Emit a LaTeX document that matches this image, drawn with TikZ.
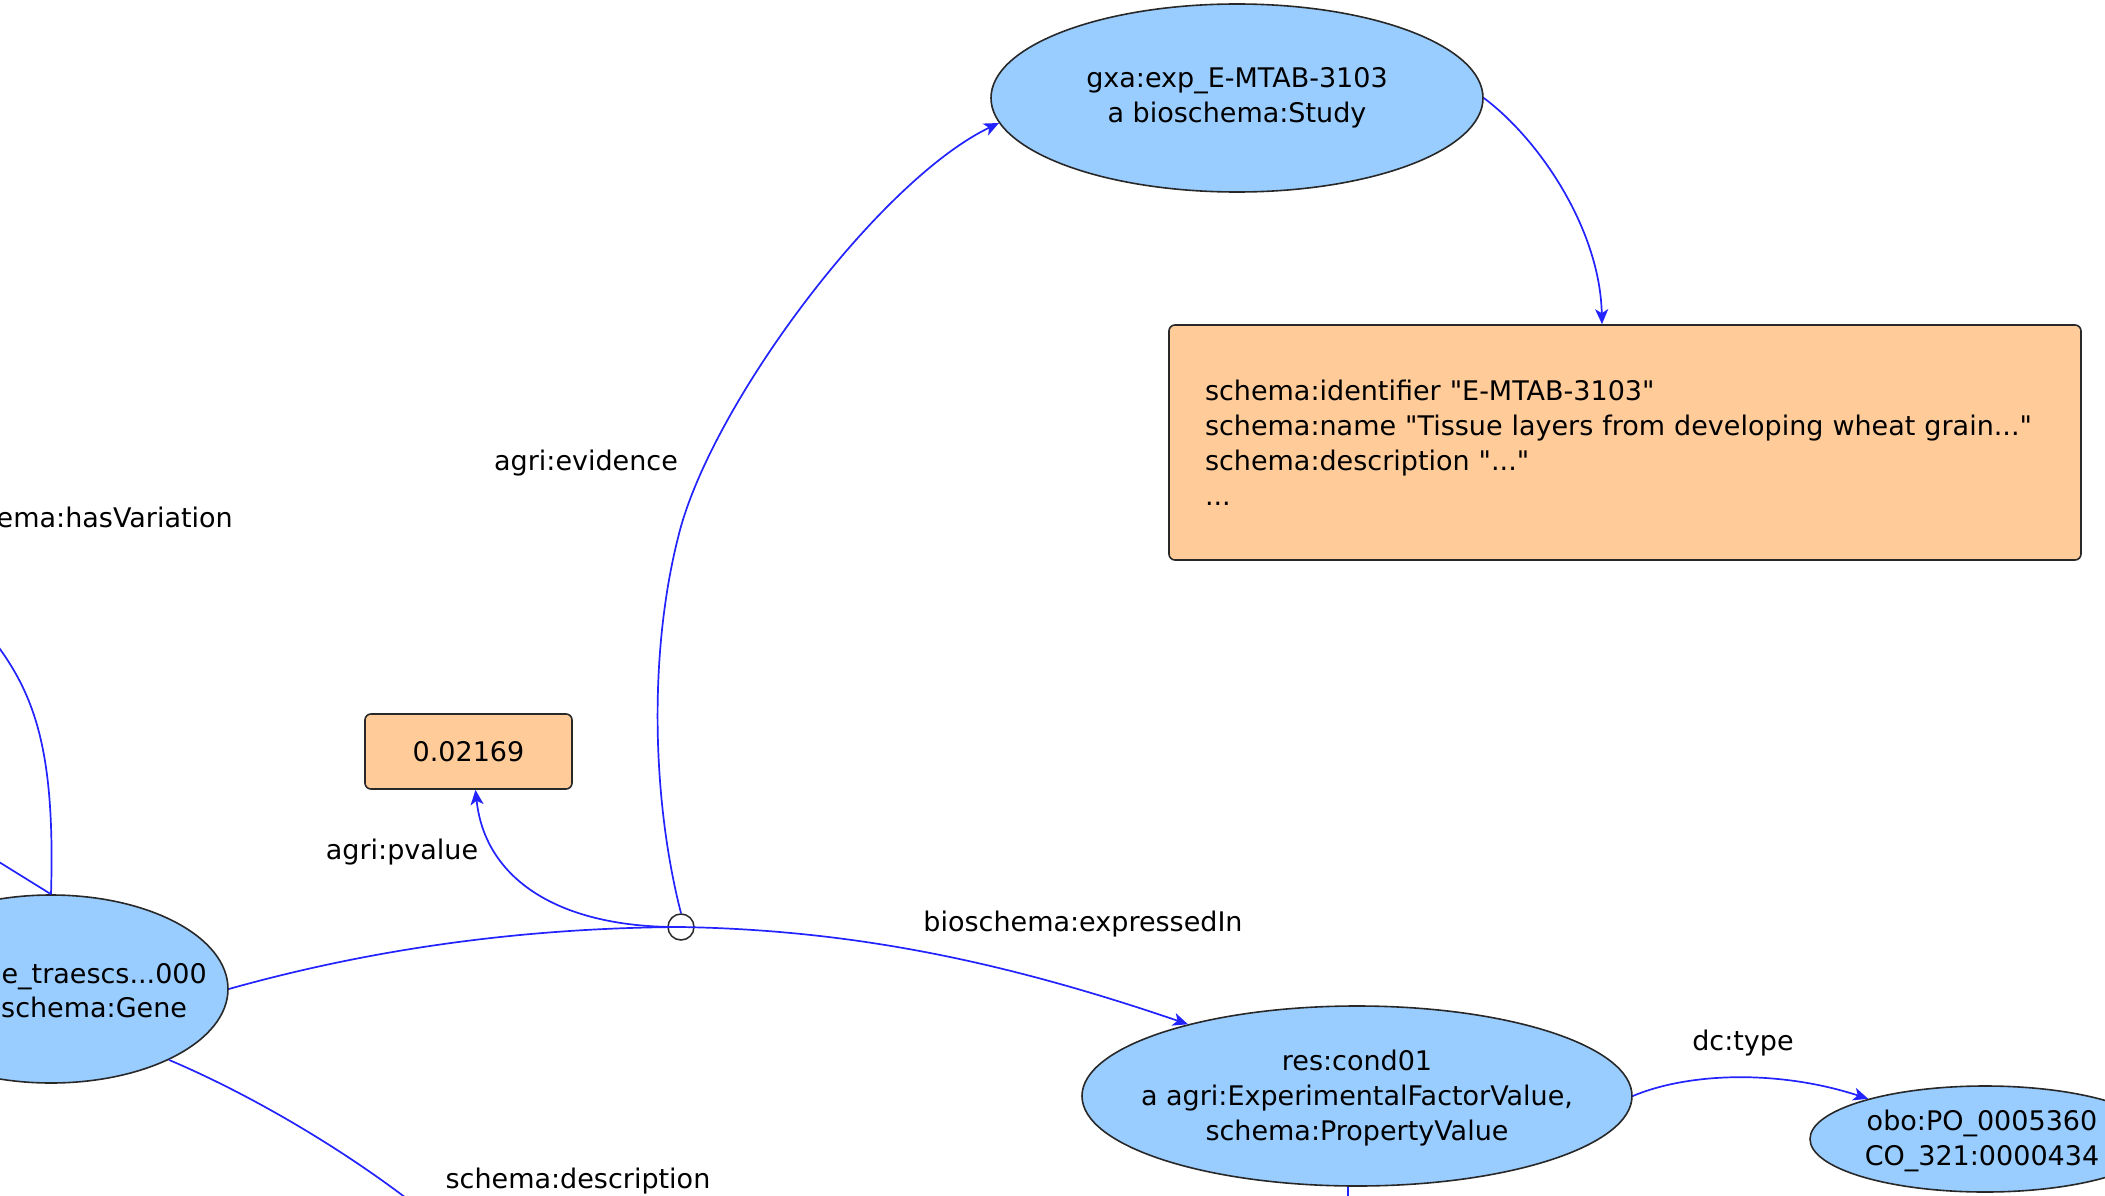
\documentclass[tikz,border=0pt]{standalone}
\usepackage{fontspec}
\setmainfont{DejaVu Sans}[Ligatures=TeXOff]
\usetikzlibrary{shapes.geometric,arrows.meta}
\definecolor{nodeblue}{RGB}{153,204,255}
\definecolor{litorange}{RGB}{255,204,153}
\definecolor{edgeblue}{RGB}{35,35,255}
\definecolor{bord}{RGB}{40,40,40}
\begin{document}
\begin{tikzpicture}[x=1pt,y=-1pt,
  font=\fontsize{27pt}{35pt}\selectfont,
  res/.style={ellipse,draw=bord,line width=1.6pt,fill=nodeblue,inner sep=0pt},
  lit/.style={rectangle,draw=bord,line width=1.6pt,fill=litorange,rounded corners=6pt,inner sep=0pt},
  txt/.style={align=center,inner sep=0pt},
  lbl/.style={inner sep=0pt},
  link/.style={draw=edgeblue,line width=1.7pt},
  arr/.style={link,-{Stealth[length=15pt,width=13pt,inset=4pt]}},
  bnode/.style={circle,draw=bord,line width=1.5pt,minimum size=26pt,inner sep=0pt}
]
\useasboundingbox (0,0) rectangle (2105,1196);
\clip (0,0) rectangle (2105,1196);
\fill[white] (0,0) rectangle (2105,1196);

% resource nodes
\node[res, minimum width=492pt, minimum height=188pt] (study) at (1237,98) {};
\node[txt] (studyt) at (study.center) {gxa:exp\_E-MTAB-3103\\a bioschema:Study};

\node[res, minimum width=354pt, minimum height=188pt] (gene) at (51,989) {};
\node[lbl, anchor=base east] (genet1) at (207,983) {e\_traescs...000};
\node[lbl, anchor=base west] (genet2) at (1,1017) {schema:Gene};

\node[res, minimum width=550pt, minimum height=180pt] (cond) at (1357,1096) {};
\node[txt] (condt) at (1357,1098) {res:cond01\\a agri:ExperimentalFactorValue,\\schema:PropertyValue};

\node[res, minimum width=350pt, minimum height=106pt] (obo) at (1985,1139) {};
\node[txt] (obot) at (1982,1141) {obo:PO\_0005360\\CO\_321:0000434};

% literal nodes
\node[lit, minimum width=912pt, minimum height=235pt, text width=840pt, align=left, inner xsep=36pt] (bigbox) at (1625,442.5)
  {schema:identifier "E-MTAB-3103"\\schema:name "Tissue layers from developing wheat grain..."\\schema:description "..."\\...};
\node[lit, minimum width=207pt, minimum height=75pt] (pval) at (468.5,751.5) {0.02169};

% blank (statement) node
\node[bnode] (circ) at (681,927) {};

% free ends
\coordinate (vartop) at (-3,645);
\coordinate (genel) at (-30,844);
\coordinate (descend) at (410,1201);
\coordinate (condbot) at (1348,1210);

% connectors
\draw[link] (gene.east) .. controls (350,955) and (500,928) .. (circ.center);
\draw[arr] (circ.center) .. controls (850,930) and (1000,960) .. (cond.157);
\draw[arr] (circ.center) .. controls (560,928) and (485,880) .. ([xshift=7pt]pval.south);
\draw[arr] (circ.north) .. controls (652,800) and (648,650) .. (680,530) .. controls (715,400) and (880,180) .. (study.186);
\draw[arr] (study.east) .. controls (1540,140) and (1600,230) .. ([xshift=-23pt]bigbox.north);
\draw[arr] (cond.east) .. controls (1690,1072) and (1780,1070) .. (obo.161);
\draw[link] (gene.north) .. controls (55,760) and (38,700) .. (vartop);
\draw[link] (gene.north) -- (genel);
\draw[link] (gene.-31) .. controls (240,1090) and (330,1140) .. (descend);
\draw[link] ([xshift=-9pt]cond.south) -- (condbot);

% edge labels
\node[lbl, anchor=base] (levid) at (586,470) {agri:evidence};
\node[lbl, anchor=base] (lpval) at (402,859) {agri:pvalue};
\node[lbl, anchor=base] (lexpr) at (1083,931) {bioschema:expressedIn};
\node[lbl, anchor=base] (ltype) at (1743,1050) {dc:type};
\node[lbl, anchor=base east] (lvar) at (233,527) {ema:hasVariation};
\node[lbl, anchor=base] (ldesc) at (578,1188) {schema:description};
\end{tikzpicture}
\end{document}
